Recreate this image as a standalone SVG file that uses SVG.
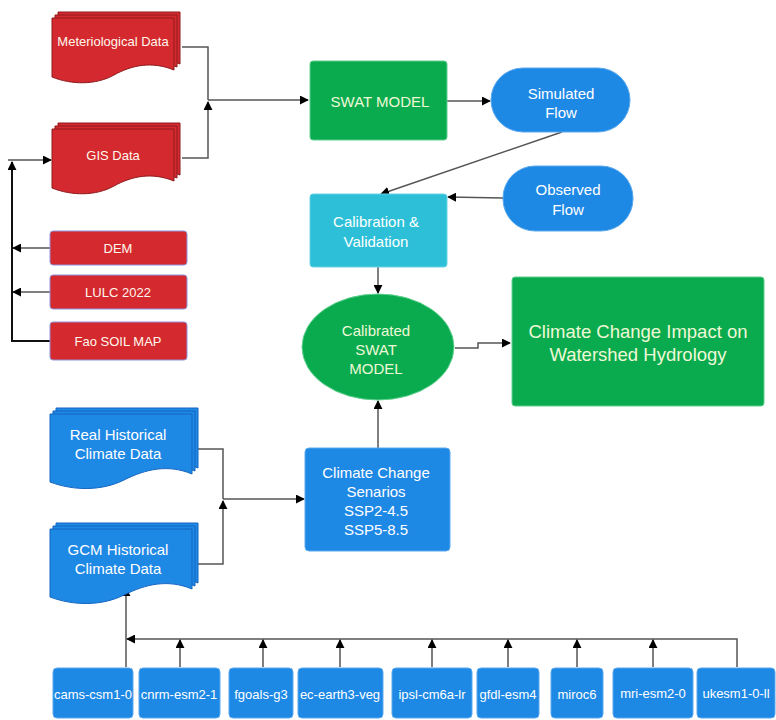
<svg xmlns="http://www.w3.org/2000/svg" width="776" height="720" viewBox="0 0 776 720">
<style>
text{font-family:"Liberation Sans",Arial,sans-serif;fill:#ffffff;text-anchor:middle;dominant-baseline:central}
.t13{font-size:13px;fill:#fff8ec}
.t15{font-size:15px}
.t18{font-size:18.5px}
.mt{font-size:13px}
.red{fill:#d4292f;stroke:#8e1a1d;stroke-width:1}
.redbox{fill:#d4292f;stroke:#8f95dd;stroke-width:1}
.blue{fill:#1e88e5;stroke:#1565c0;stroke-width:1}
.bluebox{fill:#1e88e5;stroke:#5aa9ee;stroke-width:1}
.green{fill:#0aab4e;stroke:#5fd08f;stroke-width:1}
.cyan{fill:#2cbfd7;stroke:#66d4e6;stroke-width:1}
.ln{fill:none;stroke:#555;stroke-width:1.5}
.lnk{fill:none;stroke:#111;stroke-width:2}
</style>
<defs>
<marker id="ah" viewBox="0 0 10 10" refX="9" refY="5" markerWidth="9" markerHeight="9" markerUnits="userSpaceOnUse" orient="auto">
<path d="M0,0 L10,5 L0,10 Z" fill="#000"/>
</marker>
<path id="rdoc" d="M0,0 H122 V52 C100,43 80,47 62,57 C44,67 20,67 0,59 Z"/>
<path id="bdoc" d="M0,0 H142 V60 C118,50 96,55 74,66 C52,77 24,77 0,68 Z"/>
</defs>

<g id="connectors">
<polyline class="ln" points="182,47 208,47 208,100"/>
<polyline class="ln" points="182,158 208,158 208,102" marker-end="url(#ah)"/>
<polyline class="ln" points="208,100 308,100" marker-end="url(#ah)"/>
<polyline class="ln" points="447,101 490,101" marker-end="url(#ah)"/>
<polyline class="ln" points="562,132 381,194" marker-end="url(#ah)"/>
<polyline class="ln" points="503,198 448,197" marker-end="url(#ah)"/>
<polyline class="ln" points="378,267 378,293" marker-end="url(#ah)"/>
<polyline class="ln" points="455,348 478,348 478,343 510,343" marker-end="url(#ah)"/>
<polyline class="ln" points="378,448 378,401" marker-end="url(#ah)"/>
<polyline class="ln" points="198,449 223,449 223,499"/>
<polyline class="ln" points="198,564 223,564 223,501" marker-end="url(#ah)"/>
<polyline class="ln" points="223,499 304,499" marker-end="url(#ah)"/>
<polyline class="lnk" points="50,341 12,341 12,162" marker-end="url(#ah)"/>
<polyline class="ln" points="8,160 51,160" marker-end="url(#ah)"/>
<polyline class="ln" points="50,248 13,248" marker-end="url(#ah)"/>
<polyline class="ln" points="50,292 13,292" marker-end="url(#ah)"/>
<polyline class="ln" points="126,667 126,588" marker-end="url(#ah)"/>
<polyline class="ln" points="737,667 737,639 127,639" marker-end="url(#ah)"/>
<polyline class="ln" points="180,667 180,640" marker-end="url(#ah)"/>
<polyline class="ln" points="263,667 263,640" marker-end="url(#ah)"/>
<polyline class="ln" points="340,667 340,640" marker-end="url(#ah)"/>
<polyline class="ln" points="432,667 432,640" marker-end="url(#ah)"/>
<polyline class="ln" points="508,667 508,640" marker-end="url(#ah)"/>
<polyline class="ln" points="577,667 577,640" marker-end="url(#ah)"/>
<polyline class="ln" points="653,667 653,640" marker-end="url(#ah)"/>
</g>

<g id="meteo">
<use href="#rdoc" class="red" x="58" y="12"/>
<use href="#rdoc" class="red" x="55" y="15"/>
<use href="#rdoc" class="red" x="52" y="18"/>
<text class="t13" x="113" y="41">Meteriological Data</text>
</g>
<g id="gis">
<use href="#rdoc" class="red" x="58" y="123"/>
<use href="#rdoc" class="red" x="55" y="126"/>
<use href="#rdoc" class="red" x="52" y="129"/>
<text class="t13" x="113" y="155">GIS Data</text>
</g>
<g id="dem">
<rect class="redbox" x="50" y="231" width="137" height="34" rx="3"/>
<text class="t13" x="118" y="248">DEM</text>
</g>
<g id="lulc">
<rect class="redbox" x="50" y="275" width="137" height="34" rx="3"/>
<text class="t13" x="118" y="292">LULC 2022</text>
</g>
<g id="fao">
<rect class="redbox" x="50" y="322" width="137" height="38" rx="3"/>
<text class="t13" x="118" y="341">Fao SOIL MAP</text>
</g>

<g id="swat">
<rect class="green" x="310" y="61" width="137" height="79" rx="3"/>
<text class="t15" x="380" y="101" style="fill:#eef8d6">SWAT MODEL</text>
</g>
<g id="simulated">
<rect class="bluebox" x="491" y="68" width="139" height="64" rx="32"/>
<text class="t15" x="561" y="93">Simulated</text>
<text class="t15" x="561" y="112">Flow</text>
</g>
<g id="observed">
<rect class="bluebox" x="503" y="166" width="130" height="65" rx="32"/>
<text class="t15" x="568" y="189">Observed</text>
<text class="t15" x="568" y="209">Flow</text>
</g>
<g id="calibration">
<rect class="cyan" x="310" y="194" width="137" height="73" rx="3"/>
<text class="t15" x="376" y="221">Calibration &amp;</text>
<text class="t15" x="376" y="241">Validation</text>
</g>
<g id="calibrated">
<ellipse class="green" cx="378" cy="347" rx="76" ry="53"/>
<text class="t15" x="376" y="330" style="fill:#eef8d6">Calibrated</text>
<text class="t15" x="376" y="349" style="fill:#eef8d6">SWAT</text>
<text class="t15" x="376" y="368" style="fill:#eef8d6">MODEL</text>
</g>
<g id="impact">
<rect class="green" x="512" y="277" width="252" height="129" rx="3"/>
<text class="t18" x="638" y="331" style="fill:#eef8d6">Climate Change Impact on</text>
<text class="t18" x="638" y="354" style="fill:#eef8d6">Watershed Hydrology</text>
</g>

<g id="real">
<use href="#bdoc" class="blue" x="56" y="408"/>
<use href="#bdoc" class="blue" x="53" y="411"/>
<use href="#bdoc" class="blue" x="50" y="414"/>
<text class="t15" x="118" y="434">Real Historical</text>
<text class="t15" x="118" y="453">Climate Data</text>
</g>
<g id="gcm">
<use href="#bdoc" class="blue" x="56" y="523"/>
<use href="#bdoc" class="blue" x="53" y="526"/>
<use href="#bdoc" class="blue" x="50" y="529"/>
<text class="t15" x="118" y="549">GCM Historical</text>
<text class="t15" x="118" y="568">Climate Data</text>
</g>
<g id="scenarios">
<rect class="bluebox" x="305" y="448" width="145" height="103" rx="4"/>
<text class="t15" x="376" y="472">Climate Change</text>
<text class="t15" x="376" y="491">Senarios</text>
<text class="t15" x="376" y="510">SSP2-4.5</text>
<text class="t15" x="376" y="529">SSP5-8.5</text>
</g>

<g id="cams"><rect class="bluebox" x="53" y="668" width="80" height="50" rx="4"/><text class="mt" x="93" y="694">cams-csm1-0</text></g>
<g id="cnrm"><rect class="bluebox" x="139" y="668" width="81" height="50" rx="4"/><text class="mt" x="179" y="694">cnrm-esm2-1</text></g>
<g id="fgoals"><rect class="bluebox" x="229" y="668" width="64" height="50" rx="4"/><text class="mt" x="261" y="694">fgoals-g3</text></g>
<g id="ecearth"><rect class="bluebox" x="298" y="668" width="85" height="50" rx="4"/><text class="mt" x="340" y="694">ec-earth3-veg</text></g>
<g id="ipsl"><rect class="bluebox" x="392" y="668" width="80" height="50" rx="4"/><text class="mt" x="432" y="694">ipsl-cm6a-lr</text></g>
<g id="gfdl"><rect class="bluebox" x="477" y="668" width="62" height="50" rx="4"/><text class="mt" x="508" y="694">gfdl-esm4</text></g>
<g id="miroc"><rect class="bluebox" x="551" y="668" width="52" height="50" rx="4"/><text class="mt" x="577" y="694">miroc6</text></g>
<g id="mri"><rect class="bluebox" x="613" y="668" width="80" height="50" rx="4"/><text class="mt" x="653" y="693">mri-esm2-0</text></g>
<g id="ukesm"><rect class="bluebox" x="697" y="668" width="78" height="50" rx="4"/><text class="mt" x="736" y="693">ukesm1-0-ll</text></g>
</svg>
